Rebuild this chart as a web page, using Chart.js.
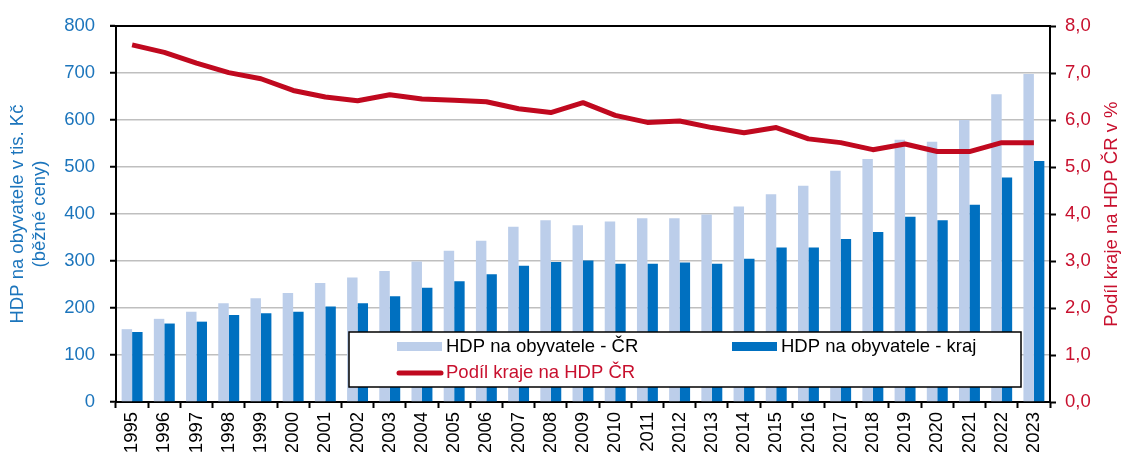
<!DOCTYPE html>
<html lang="cs">
<head>
    <meta charset="UTF-8">
    <title>HDP na obyvatele</title>
    <style>
        html, body { margin: 0; padding: 0; background: #fff; }
        #wrap { width: 1122px; height: 452px; }
    </style>
</head>
<body>
<div id="wrap"><canvas id="hdpChart" width="1122" height="452"></canvas></div>
<script src="https://cdn.jsdelivr.net/npm/chart.js"></script>
<script>
// data
const years = ['1995','1996','1997','1998','1999','2000','2001','2002','2003','2004','2005','2006','2007','2008','2009',
    '2010','2011','2012','2013','2014','2015','2016','2017','2018','2019','2020','2021','2022','2023'];
const hdpCR = [155,177,192,210,221,232,253,265,279,299,322,343,373,387,376,
    384,391,391,399,416,442,460,492,517,558,554,600,655,698];
const hdpKraj = [149,167,171,185,189,192,203,210,225,243,257,272,290,298,301,
    294,294,297,294,305,329,329,347,362,394,387,420,478,513];
const podil = [7.60,7.44,7.21,7.01,6.88,6.63,6.49,6.41,6.54,6.45,6.42,6.39,6.24,6.16,6.37,
    6.10,5.95,5.98,5.84,5.73,5.84,5.60,5.52,5.37,5.49,5.33,5.33,5.52,5.52];
const leftTitle = ['HDP na obyvatele v tis. Kč', '(běžné ceny)'];
const rightTitle = 'Podíl kraje na HDP ČR v %';

const BLUE_TXT = '#1C75BC';
const RED_TXT = '#C8102E';
const FONT_FAMILY = "'Liberation Sans', Arial, sans-serif";
const FONT_SIZE = 18.5;

Chart.defaults.font.family = FONT_FAMILY;
Chart.defaults.font.size = FONT_SIZE;

// top frame line, right axis title and the boxed legend inside the plot
const extras = {
    id: 'extras',
    afterDraw(chart) {
        const ctx = chart.ctx;
        const a = chart.chartArea;
        ctx.save();
        ctx.strokeStyle = '#000';
        ctx.lineWidth = 2;
        ctx.beginPath();
        ctx.moveTo(a.left - 6, a.top);
        ctx.lineTo(a.right, a.top);
        ctx.stroke();

        ctx.font = FONT_SIZE + 'px ' + FONT_FAMILY;
        ctx.textBaseline = 'middle';

        // right title, reading bottom to top
        ctx.save();
        ctx.translate(1112, (a.top + a.bottom) / 2);
        ctx.rotate(-Math.PI / 2);
        ctx.fillStyle = RED_TXT;
        ctx.textAlign = 'center';
        ctx.fillText(rightTitle, 0, 0);
        ctx.restore();

        // legend box
        ctx.fillStyle = '#fff';
        ctx.fillRect(349, 332, 672, 55);
        ctx.strokeStyle = '#000';
        ctx.lineWidth = 1.5;
        ctx.strokeRect(349, 332, 672, 55);

        const ds = chart.data.datasets;
        ctx.textAlign = 'left';
        ctx.fillStyle = ds[0].backgroundColor;
        ctx.fillRect(397, 342, 45, 9);
        ctx.fillStyle = '#000';
        ctx.fillText(ds[0].label, 446, 347);

        ctx.fillStyle = ds[1].backgroundColor;
        ctx.fillRect(732, 342, 45, 9);
        ctx.fillStyle = '#000';
        ctx.fillText(ds[1].label, 781, 347);

        ctx.strokeStyle = ds[2].borderColor;
        ctx.lineWidth = 5;
        ctx.lineCap = 'round';
        ctx.beginPath();
        ctx.moveTo(399, 373);
        ctx.lineTo(441, 373);
        ctx.stroke();
        ctx.fillStyle = RED_TXT;
        ctx.fillText(ds[2].label, 446, 373);
        ctx.restore();
    }
};

new Chart(document.getElementById('hdpChart').getContext('2d'), {
    type: 'bar',
    data: {
        labels: years,
        datasets: [
            {
                label: 'HDP na obyvatele - ČR',
                data: hdpCR,
                backgroundColor: '#BCCEEA',
                yAxisID: 'y',
                order: 1,
                barPercentage: 1,
                categoryPercentage: 0.65
            },
            {
                label: 'HDP na obyvatele - kraj',
                data: hdpKraj,
                backgroundColor: '#0070C0',
                yAxisID: 'y',
                order: 1,
                barPercentage: 1,
                categoryPercentage: 0.65
            },
            {
                type: 'line',
                label: 'Podíl kraje na HDP ČR',
                data: podil,
                borderColor: '#C0091F',
                backgroundColor: '#C0091F',
                borderWidth: 5,
                borderJoinStyle: 'round',
                pointRadius: 0,
                tension: 0,
                yAxisID: 'y1',
                order: 0
            }
        ]
    },
    options: {
        responsive: false,
        animation: false,
        layout: { padding: { top: 23, left: 0, right: 0, bottom: 0 } },
        plugins: {
            legend: { display: false },
            tooltip: { enabled: false },
            title: { display: false }
        },
        scales: {
            x: {
                afterFit(scale) { scale.height = 50; },
                border: { color: '#000', width: 2 },
                grid: { drawOnChartArea: false, drawTicks: true, tickLength: 6, tickColor: '#000', tickWidth: 2 },
                ticks: { color: '#000', autoSkip: false, minRotation: 90, maxRotation: 90, padding: 4 }
            },
            y: {
                position: 'left',
                min: 0,
                max: 800,
                afterFit(scale) { scale.width = 116; },
                border: { color: '#000', width: 2 },
                grid: { color: '#BFBFBF', lineWidth: 1.5, tickLength: 6, tickColor: '#000', tickWidth: 2 },
                ticks: { stepSize: 100, color: BLUE_TXT, padding: 15 },
                title: {
                    display: true,
                    text: leftTitle,
                    color: BLUE_TXT,
                    font: { size: FONT_SIZE, lineHeight: 1.19 },
                    padding: { top: 6.5, bottom: 0 }
                }
            },
            y1: {
                position: 'right',
                min: 0,
                max: 8,
                afterFit(scale) { scale.width = 72; },
                border: { color: '#000', width: 2 },
                grid: { drawOnChartArea: false, tickLength: 6, tickColor: '#000', tickWidth: 2 },
                ticks: {
                    stepSize: 1,
                    color: RED_TXT,
                    padding: 9,
                    callback: v => v.toFixed(1).replace('.', ',')
                }
            }
        }
    },
    plugins: [extras]
});
</script>
</body>
</html>
